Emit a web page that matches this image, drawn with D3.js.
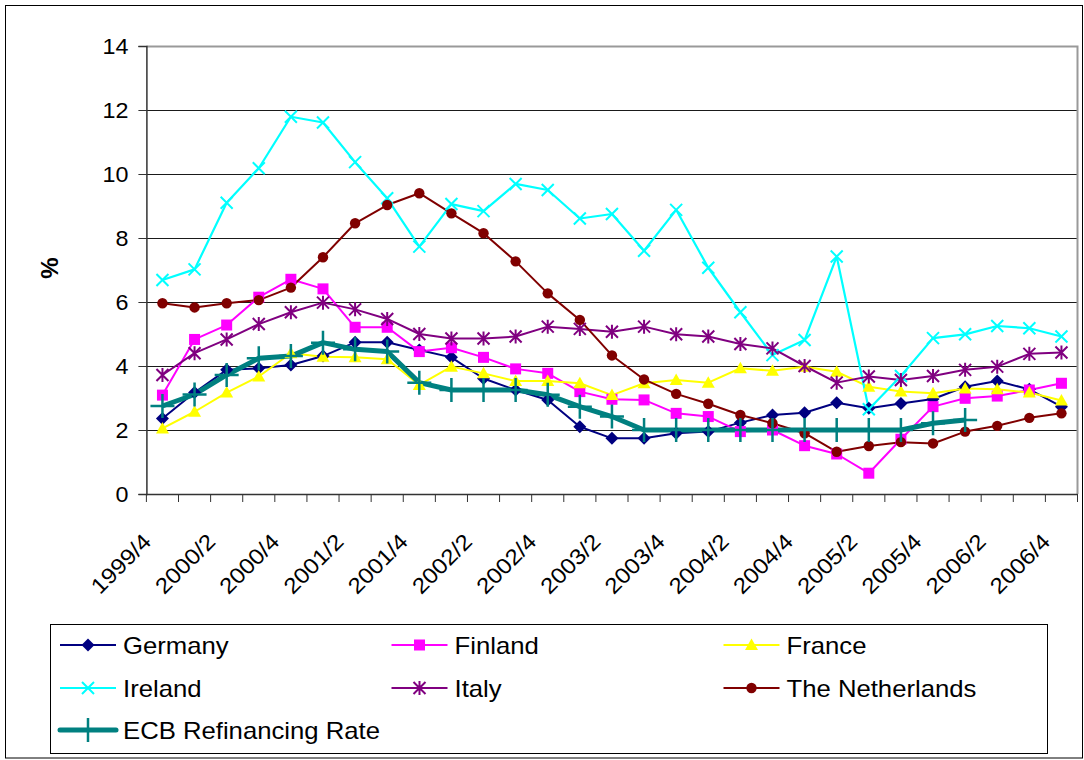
<!DOCTYPE html>
<html lang="en">
<head>
<meta charset="UTF-8">
<title>Government bond yields and ECB rate</title>
<script src="https://d3js.org/d3.v7.min.js"></script>
<style>
  body, html { margin: 0; padding: 0; background: white; overflow: hidden; }
  svg { display: block; }
  text { font-family: "Liberation Sans", Arial, sans-serif; fill: #000; }
</style>
</head>
<body>
<svg width="1084" height="760"></svg>
<script>
// quarters on the x axis
const quarters = ["1999/4",
  "2000/1", "2000/2", "2000/3", "2000/4",
  "2001/1", "2001/2", "2001/3", "2001/4",
  "2002/1", "2002/2", "2002/3", "2002/4",
  "2003/1", "2003/2", "2003/3", "2003/4",
  "2004/1", "2004/2", "2004/3", "2004/4",
  "2005/1", "2005/2", "2005/3", "2005/4",
  "2006/1", "2006/2", "2006/3", "2006/4"];

const germany = [2.36, 3.17, 3.88, 3.93, 4.03, 4.31, 4.74, 4.74, 4.50, 4.27, 3.61, 3.25, 2.94, 2.10, 1.74,
  1.74, 1.90, 1.95, 2.23, 2.47, 2.54, 2.85, 2.68, 2.83, 2.97, 3.35, 3.53, 3.27, 2.73];
const finland = [3.09, 4.83, 5.28, 6.15, 6.71, 6.41, 5.21, 5.21, 4.45, 4.57, 4.27, 3.91, 3.77, 3.20, 2.96,
  2.94, 2.52, 2.42, 1.95, 2.00, 1.51, 1.25, 0.65, 1.71, 2.73, 2.99, 3.06, 3.25, 3.46];
const france = [2.05, 2.57, 3.17, 3.67, 4.40, 4.29, 4.27, 4.21, 3.41, 3.98, 3.77, 3.53, 3.53, 3.46, 3.09,
  3.46, 3.56, 3.48, 3.93, 3.85, 3.98, 3.82, 3.35, 3.20, 3.15, 3.30, 3.27, 3.17, 2.92];
const ireland = [6.69, 7.02, 9.10, 10.18, 11.79, 11.61, 10.37, 9.24, 7.73, 9.06, 8.84, 9.69, 9.50, 8.61, 8.75,
  7.60, 8.88, 7.07, 5.68, 4.34, 4.81, 7.42, 2.65, 3.69, 4.87, 4.99, 5.25, 5.18, 4.92];
const italy = [3.72, 4.40, 4.83, 5.31, 5.68, 5.98, 5.77, 5.47, 5.00, 4.86, 4.86, 4.92, 5.23, 5.16, 5.07,
  5.23, 4.99, 4.92, 4.69, 4.55, 4.00, 3.48, 3.67, 3.56, 3.69, 3.88, 3.98, 4.38, 4.42];
const netherlands = [5.96, 5.83, 5.96, 6.06, 6.45, 7.40, 8.46, 9.03, 9.40, 8.77, 8.15, 7.27, 6.27, 5.44, 4.33,
  3.58, 3.13, 2.82, 2.47, 2.21, 1.90, 1.32, 1.50, 1.62, 1.58, 1.95, 2.13, 2.38, 2.52];
// ECB series stops at 2006/1
const ecb = [2.75, 3.11, 3.72, 4.24, 4.31, 4.73, 4.52, 4.45, 3.48, 3.25, 3.25, 3.25, 3.10, 2.73, 2.42,
  2.00, 2.00, 2.00, 2.00, 2.00, 2.00, 2.00, 2.00, 2.00, 2.21, 2.31];

const yTicks = [0, 2, 4, 6, 8, 10, 12, 14];

const series = [
  {name: "Germany", values: germany, color: "#000080", width: 2, marker: "diamond"},
  {name: "Finland", values: finland, color: "#ff00ff", width: 2, marker: "square"},
  {name: "France", values: france, color: "#ffff00", width: 2, marker: "triangle"},
  {name: "Ireland", values: ireland, color: "#00ffff", width: 2.2, marker: "x"},
  {name: "Italy", values: italy, color: "#800080", width: 2, marker: "star"},
  {name: "The Netherlands", values: netherlands, color: "#800000", width: 2, marker: "circle"},
  {name: "ECB Refinancing Rate", values: ecb, color: "#008080", width: 5, marker: "plus"}
];

const svg = d3.select("svg");
const plot = {left: 146.4, right: 1077.5, top: 46, bottom: 494};

const x = d3.scaleBand().domain(quarters).range([plot.left, plot.right]).padding(0);
const y = d3.scaleLinear().domain([0, 14]).range([plot.bottom, plot.top]);
const cx = q => x(q) + x.bandwidth() / 2;

// stretch text a bit wider, the picture is slightly wide
function stretch(sel, k) {
  sel.each(function() {
    const len = this.getComputedTextLength();
    d3.select(this).attr("textLength", len * k).attr("lengthAdjust", "spacingAndGlyphs");
  });
}

// outer frame
svg.append("rect")
  .attr("x", 5.5).attr("y", 5.5).attr("width", 1077).attr("height", 752.5)
  .attr("fill", "white").attr("stroke", "#000").attr("stroke-width", 1);

// gridlines
svg.append("g")
  .selectAll("line")
  .data(yTicks.filter(d => d > 0 && d < 14))
  .join("line")
  .attr("x1", plot.left).attr("x2", plot.right)
  .attr("y1", d => Math.round(y(d)) + 0.5).attr("y2", d => Math.round(y(d)) + 0.5)
  .attr("stroke", "#1a1a1a").attr("stroke-width", 1.2);

// plot area border (top and right in grey)
svg.append("path")
  .attr("d", `M${plot.left},${plot.top + 0.5}H${plot.right}V${plot.bottom}`)
  .attr("fill", "none").attr("stroke", "#999").attr("stroke-width", 2);

// y axis
const yAxis = d3.axisLeft(y).tickValues(yTicks).tickSize(8).tickPadding(10).tickFormat(d3.format("d"));
const gy = svg.append("g")
  .attr("transform", `translate(${plot.left},0)`)
  .call(yAxis);
gy.select(".domain").attr("stroke", "#333").attr("stroke-width", 1.5);
gy.selectAll(".tick line").attr("stroke", "#333");
gy.selectAll("text")
  .attr("font-size", 22)
  .attr("font-family", "Liberation Sans, Arial, sans-serif")
  .call(stretch, 1.06);

// x axis: ticks at band boundaries
const gx = svg.append("g");
gx.append("line")
  .attr("x1", plot.left).attr("x2", plot.right)
  .attr("y1", plot.bottom + 0.5).attr("y2", plot.bottom + 0.5)
  .attr("stroke", "#333").attr("stroke-width", 1.5);
gx.selectAll("line.tick")
  .data(d3.range(quarters.length + 1))
  .join("line")
  .attr("class", "tick")
  .attr("x1", i => plot.left + i * x.bandwidth()).attr("x2", i => plot.left + i * x.bandwidth())
  .attr("y1", plot.bottom).attr("y2", plot.bottom + 8)
  .attr("stroke", "#333").attr("stroke-width", 1);
gx.selectAll("text")
  .data(quarters.filter((q, i) => i % 2 === 0))
  .join("text")
  .attr("transform", q => `translate(${cx(q) - 10},543) rotate(-45)`)
  .attr("text-anchor", "end")
  .attr("font-size", 22)
  .text(q => q)
  .call(stretch, 1.1);

// y axis title
svg.append("text")
  .attr("transform", "translate(49,268) rotate(-90)")
  .attr("text-anchor", "middle")
  .attr("dominant-baseline", "central")
  .attr("font-size", 24)
  .attr("font-weight", "bold")
  .text("%");

// marker shapes
function markerPath(type) {
  switch (type) {
    case "diamond": return "M0,-6.5L6.5,0L0,6.5L-6.5,0Z";
    case "square": return "M-5.5,-5.5H5.5V5.5H-5.5Z";
    case "triangle": return "M0,-6.5L6.5,5L-6.5,5Z";
    case "x": return "M-6,-6L6,6M-6,6L6,-6";
    case "star": return "M-6,-6L6,6M-6,6L6,-6M0,-7V7";
    case "plus": return "M0,-12V12M-12,0H12";
    default: return null;
  }
}

function drawMarker(g, type, color) {
  if (type === "circle") {
    g.append("circle").attr("r", 5.2).attr("fill", color);
  } else if (type === "x" || type === "star") {
    g.append("path").attr("d", markerPath(type)).attr("fill", "none").attr("stroke", color).attr("stroke-width", 2);
  } else if (type === "plus") {
    g.append("path").attr("d", markerPath(type)).attr("fill", "none").attr("stroke", color).attr("stroke-width", 2.5);
  } else {
    g.append("path").attr("d", markerPath(type)).attr("fill", color);
  }
}

const line = d3.line()
  .x((d, i) => cx(quarters[i]))
  .y(d => y(d));

// lines
svg.append("g")
  .selectAll("path")
  .data(series)
  .join("path")
  .attr("d", s => line(s.values))
  .attr("fill", "none")
  .attr("stroke", s => s.color)
  .attr("stroke-width", s => s.width)
  .attr("stroke-linejoin", "round");

// markers
series.forEach(s => {
  const g = svg.append("g");
  s.values.forEach((v, i) => {
    const m = g.append("g").attr("transform", `translate(${cx(quarters[i])},${y(v)})`);
    drawMarker(m, s.marker, s.color);
  });
});

// legend
const legend = svg.append("g");
legend.append("rect")
  .attr("x", 50.5).attr("y", 624.5).attr("width", 997).attr("height", 129)
  .attr("fill", "white").attr("stroke", "#000").attr("stroke-width", 1);

const colX = [60, 391.5, 723.5];
const rowY = [645, 688, 730];
series.forEach((s, i) => {
  const gx0 = colX[i % 3], gy0 = rowY[Math.floor(i / 3)];
  const g = legend.append("g").attr("transform", `translate(${gx0},${gy0})`);
  g.append("line").attr("x1", 0).attr("x2", 56).attr("y1", 0).attr("y2", 0)
    .attr("stroke", s.color).attr("stroke-width", s.width)
    .attr("stroke-linecap", s.marker === "plus" ? "round" : "butt");
  drawMarker(g.append("g").attr("transform", "translate(28,0)"), s.marker, s.color);
  g.append("text")
    .attr("x", 63).attr("y", 0)
    .attr("dominant-baseline", "central")
    .attr("font-size", 24)
    .text(s.name)
    .call(stretch, 1.07);
});
</script>
</body>
</html>
